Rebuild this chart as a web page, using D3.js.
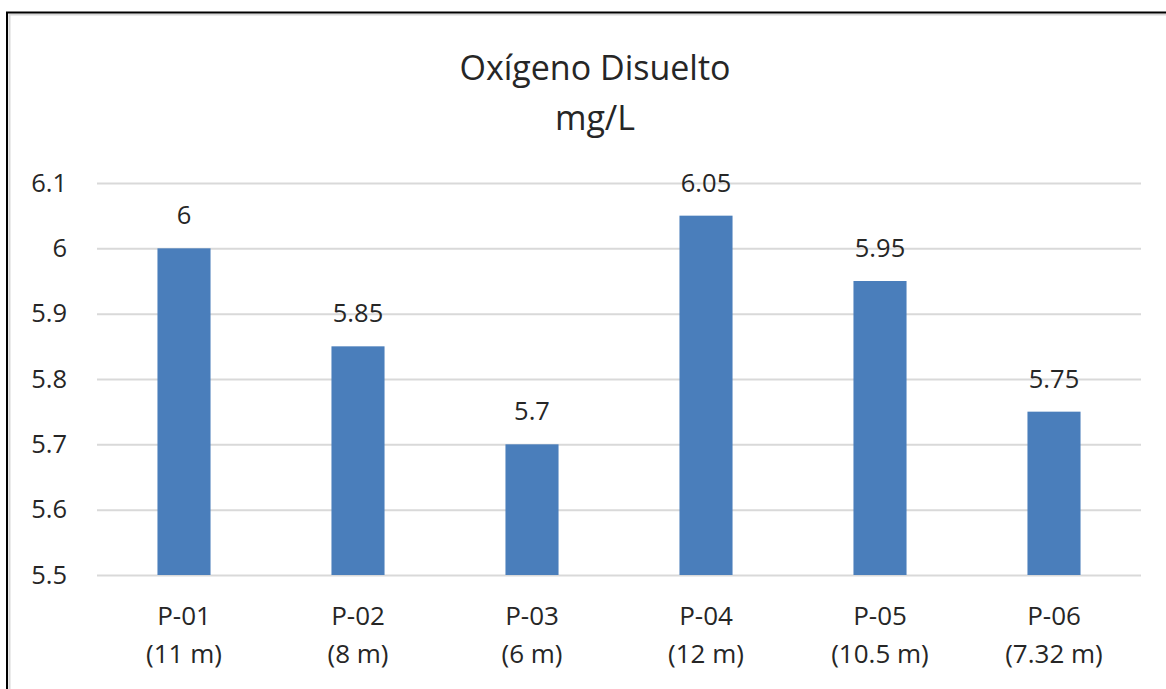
<!DOCTYPE html>
<html>
<head>
<meta charset="utf-8">
<script src="https://cdn.jsdelivr.net/npm/d3@7"></script>
<style>
  html, body { margin: 0; padding: 0; background: #ffffff; }
  svg { display: block; }
  text { font-family: "Open Sans", sans-serif; fill: #262626; }
</style>
</head>
<body>
<svg id="chart" width="1166" height="689"></svg>
<script>
// ---- data ----
const categories = ["P-01", "P-02", "P-03", "P-04", "P-05", "P-06"];
const depths = ["(11 m)", "(8 m)", "(6 m)", "(12 m)", "(10.5 m)", "(7.32 m)"];
const values = [6, 5.85, 5.7, 6.05, 5.95, 5.75];
const yTicks = [5.5, 5.6, 5.7, 5.8, 5.9, 6.0, 6.1];
const titleLines = ["Oxígeno Disuelto", "mg/L"];

const svg = d3.select("#chart");

// chart border (extends past the right / bottom edge of the picture)
svg.append("path")
  .attr("d", "M9.5,1200 V14.5 H1300")
  .attr("fill", "none").attr("stroke", "#d8d8d8").attr("stroke-width", 2);
svg.append("path")
  .attr("d", "M7,1200 V12.5 H1300")
  .attr("fill", "none").attr("stroke", "#000").attr("stroke-width", 2);

const plot = { left: 97, right: 1141, top: 183, bottom: 575 };

const x = d3.scaleBand()
  .domain(categories)
  .range([plot.left, plot.right])
  .paddingInner(0.695)
  .paddingOuter(0.3475);

const y = d3.scaleLinear()
  .domain([5.5, 6.1])
  .range([plot.bottom, plot.top]);

// gridlines + y tick labels
const yAxis = d3.axisLeft(y)
  .tickValues(yTicks)
  .tickSize(-(plot.right - plot.left))
  .tickPadding(30)
  .tickFormat(d => String(+d.toFixed(2)));

const gy = svg.append("g")
  .attr("transform", `translate(${plot.left},0)`)
  .call(yAxis);
gy.select(".domain").remove();
gy.selectAll(".tick line").attr("stroke", "#d9d9d9").attr("stroke-width", 2);
gy.selectAll(".tick text")
  .attr("font-size", 25.5)
  .attr("fill", "#262626")
  .attr("font-family", "Open Sans, sans-serif");

// bars
svg.append("g").selectAll("rect")
  .data(values)
  .join("rect")
  .attr("x", (d, i) => x(categories[i]))
  .attr("width", x.bandwidth())
  .attr("y", d => y(d))
  .attr("height", d => y(5.5) - y(d))
  .attr("fill", "#4a7ebb");

// data labels
svg.append("g").selectAll("text")
  .data(values)
  .join("text")
  .attr("x", (d, i) => x(categories[i]) + x.bandwidth() / 2)
  .attr("y", d => y(d) - 24)
  .attr("text-anchor", "middle")
  .attr("font-size", 25.5)
  .text(d => String(d));

// x axis labels (two lines)
const xAxis = d3.axisBottom(x).tickSize(0).tickFormat("");
const gx = svg.append("g")
  .attr("transform", `translate(0,${plot.bottom})`)
  .call(xAxis);
gx.select(".domain").remove();
gx.selectAll(".tick").each(function(d, i) {
  const t = d3.select(this).append("text")
    .attr("text-anchor", "middle")
    .attr("font-size", 26)
    .attr("fill", "#262626")
    .attr("font-family", "Open Sans, sans-serif");
  t.append("tspan").attr("x", 0).attr("y", 50).text(categories[i]);
  t.append("tspan").attr("x", 0).attr("y", 88).text(depths[i]);
});

// title
const title = svg.append("text")
  .attr("text-anchor", "middle")
  .attr("font-size", 34);
title.selectAll("tspan")
  .data(titleLines)
  .join("tspan")
  .attr("x", 595)
  .attr("y", (d, i) => 80 + i * 50)
  .text(d => d);
</script>
</body>
</html>
